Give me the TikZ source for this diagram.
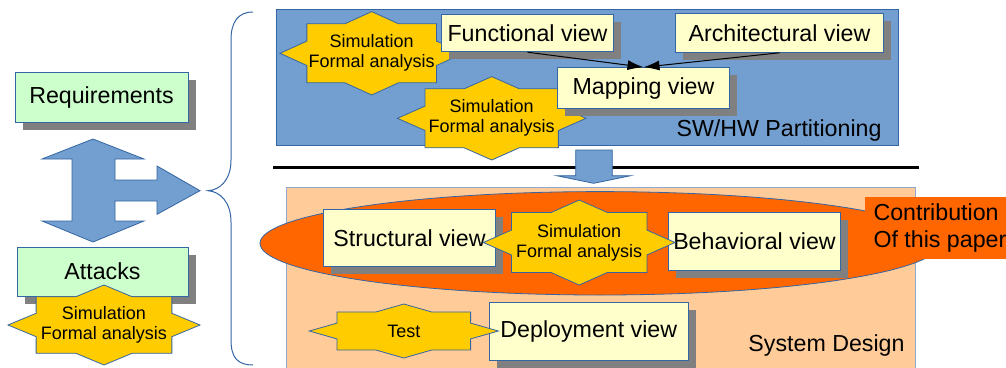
\documentclass[tikz,border=0pt]{standalone}
\usepackage{fontspec}
\setmainfont{Liberation Sans}
\usepackage{tikz}
\usetikzlibrary{arrows.meta}
\usetikzlibrary{calc}
\usetikzlibrary{shadows}

\definecolor{blueline}{HTML}{3465A4}
\definecolor{bluefill}{HTML}{729FCF}
\definecolor{reqfill}{HTML}{CCFFCC}
\definecolor{viewfill}{HTML}{FFFFCC}
\definecolor{starfill}{HTML}{FFCC00}
\definecolor{contribfill}{HTML}{FF6600}
\definecolor{designfill}{HTML}{FFCC99}
\definecolor{designline}{HTML}{8FA8D0}
\definecolor{shadowgray}{HTML}{808080}

\newcommand{\bigfont}{\fontsize{23.2}{26.7}\selectfont}
\newcommand{\smallfont}{\fontsize{18}{20}\selectfont}

% 8-point star drawn round a text node
\newcommand{\simstar}[5]{%
  \filldraw[starshape,shift={(#2)}] (0:#3 and #4)
    \foreach \a in {0,45,...,315} {-- (\a:#3 and #4) -- (\a+22.5:{.765*#3} and {.765*#4})} -- cycle;
  \node[startext] (#1) at (#2) {#5};}

\begin{document}
\begin{tikzpicture}[x=1pt,y=-1pt,line width=1pt,
  region/.style={draw=blueline,line width=.8pt},
  viewbox/.style={draw=blueline,fill=viewfill,font=\bigfont,inner sep=0pt,
    drop shadow={shadow xshift=7.5pt,shadow yshift=-7.5pt,fill=shadowgray,opacity=1}},
  reqbox/.style={viewbox,fill=reqfill},
  starshape/.style={draw=blueline,fill=starfill,line width=.8pt},
  startext/.style={font=\smallfont,align=center,inner sep=0pt},
  regionlabel/.style={font=\bigfont,inner sep=0pt,anchor=east},
  contribbox/.style={fill=contribfill,font=\bigfont,align=left,inner xsep=9pt,inner ysep=0pt},
  conn/.style={-{Latex[length=16pt,width=10pt]},line width=1pt}]

  \useasboundingbox (0,0) rectangle (1006,367);
  \clip (0,0) rectangle (1006,367);

  % left side
  \node[reqbox,minimum width=173pt,minimum height=50pt] (req) at (101.5,97) {Requirements};
  \node[reqbox,minimum width=171pt,minimum height=49pt] (att) at (102.5,271.5) {Attacks};
  \filldraw[region,fill=bluefill] (93,139) -- (144,159) -- (115,159) -- (115,180) -- (157,180)
    -- (157,166) -- (200,190.7) -- (157,214.3) -- (157,201) -- (115,201) -- (115,221)
    -- (144,221) -- (93,242) -- (42,221) -- (72,221) -- (72,159) -- (42,159) -- cycle;
  \simstar{simatt}{104,325}{96}{40}{Simulation\\Formal analysis}

  % brace
  \draw[blueline,line width=1pt] (253,12) .. controls (238,12) and (231,22) .. (231,40)
    -- (231,160) .. controls (231,180) and (220,190) .. (208,190.7)
    .. controls (220,191.5) and (231,202) .. (231,222)
    -- (231,340) .. controls (231,358) and (238,365) .. (253,365);

  % SW/HW partitioning
  \filldraw[region,fill=bluefill] (276,9.3) rectangle (898.3,145);
  \node[regionlabel] (swhw) at (882,130) {SW/HW Partitioning};
  \simstar{simfunc}{371.7,53.3}{91.7}{41.7}{Simulation\\Formal analysis}
  \simstar{simmap}{491.7,118.3}{94.3}{41.7}{Simulation\\Formal analysis}
  \node[viewbox,minimum width=171.6pt,minimum height=37.7pt] (func) at (527.5,32.85) {Functional view};
  \node[viewbox,minimum width=207.6pt,minimum height=39pt] (arch) at (779.5,32.8) {Architectural view};
  \node[viewbox,minimum width=171.6pt,minimum height=40.6pt] (map) at (643.5,88) {Mapping view};
  \draw[conn] (func.south) -- (map.north);
  \draw[conn] (arch.south) -- (map.north);

  % separator and arrow down
  \draw[line width=3pt] (273.3,167.3) -- (919.3,167.3);
  \filldraw[region,fill=bluefill] (575.7,150) -- (612.3,150) -- (612.3,175.7) -- (630.7,175.7)
    -- (593.7,183.3) -- (556.7,175.7) -- (575.7,175.7) -- cycle;

  % system design
  \filldraw[draw=designline,fill=designfill] (286.7,187.7) rectangle (915,380);
  \node[regionlabel] (sysdes) at (905,345) {System Design};
  \filldraw[region,fill=contribfill] (600,243.3) ellipse [x radius=340pt,y radius=51.7pt];
  \node[contribbox,anchor=north west,minimum height=62.3pt] (contrib) at (864,196) {Contribution\\Of this paper};
  \node[viewbox,minimum width=172.4pt,minimum height=57.7pt] (struct) at (409.5,237.85) {Structural view};
  \node[viewbox,minimum width=172.4pt,minimum height=57.3pt] (behav) at (754.5,241.35) {Behavioral view};
  \simstar{simstruct}{579.2,242.5}{95.8}{42.5}{Simulation\\Formal analysis}
  \node[viewbox,minimum width=199pt,minimum height=57.3pt] (deploy) at (588.8,331.35) {Deployment view};
  \simstar{test}{403.8,331}{94.5}{27}{Test}
\end{tikzpicture}
\end{document}
